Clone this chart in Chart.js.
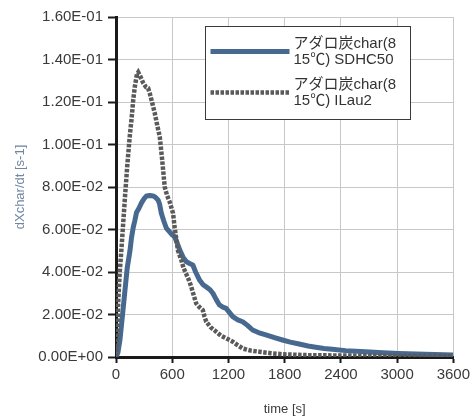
<!DOCTYPE html>
<html>
<head>
<meta charset="utf-8">
<script src="https://cdn.jsdelivr.net/npm/chart.js@4/dist/chart.umd.min.js"></script>
<style>
html,body{margin:0;padding:0;background:#fff;}
canvas{display:block;}
</style>
</head>
<body>
<canvas id="c" width="473" height="417"></canvas>
<script>
// ---- data ----
const seriesNames = ['アダロ炭char(815℃) SDHC50', 'アダロ炭char(815℃) ILau2'];
const legendLines = [['アダロ炭char(8', '15℃) SDHC50'], ['アダロ炭char(8', '15℃) ILau2']];

const timeSDHC50 = [0,20,42,70,96,120,149,165,184,200,219,245,272,300,326,360,396,420,449,465,484,510,537,570,600,626,650,680,715,750,785,820,850,892,930,963,1000,1034,1070,1104,1140,1175,1210,1246,1300,1352,1400,1458,1520,1600,1700,1777,1860,1954,2050,2131,2220,2308,2450,2662,2850,3016,3300,3600];
const valSDHC50 = [0,0.002,0.008,0.020,0.0315,0.042,0.050,0.056,0.061,0.064,0.068,0.070,0.0725,0.0745,0.0758,0.0760,0.0758,0.0752,0.0739,0.072,0.0676,0.064,0.0607,0.059,0.0575,0.0566,0.054,0.0504,0.047,0.0449,0.044,0.0433,0.040,0.0362,0.034,0.033,0.0318,0.030,0.027,0.0245,0.0235,0.0229,0.021,0.019,0.0175,0.0166,0.015,0.0127,0.0115,0.0104,0.009,0.008,0.007,0.0061,0.0052,0.0046,0.004,0.0036,0.003,0.0025,0.002,0.0017,0.0013,0.001];

const timeILau2 = [0,10,25,40,60,80,96,120,149,166,184,200,223,237,260,290,320,343,361,390,414,440,467,490,520,545,573,609,626,645,662,697,720,750,780,803,830,856,890,927,945,963,1010,1069,1120,1175,1246,1300,1352,1440,1529,1650,1777,2000,2400,3000,3600];
const valILau2 = [0,0.008,0.027,0.040,0.052,0.065,0.0755,0.090,0.105,0.112,0.121,0.127,0.133,0.134,0.132,0.129,0.127,0.1265,0.124,0.119,0.1147,0.109,0.1037,0.094,0.080,0.076,0.073,0.0676,0.061,0.055,0.050,0.0456,0.042,0.039,0.036,0.033,0.029,0.0252,0.0235,0.022,0.019,0.0166,0.014,0.0119,0.010,0.0088,0.0072,0.0055,0.004,0.003,0.0025,0.0018,0.0013,0.0009,0.0007,0.0005,0.0004];

const xTicks = [0,600,1200,1800,2400,3000,3600];
const yTicks = [0,0.02,0.04,0.06,0.08,0.10,0.12,0.14,0.16];

// ---- helpers ----
const FONT = "'Liberation Sans', 'Noto Sans CJK JP', Arial, sans-serif";
const BLUE = '#48698f';
const GRAY = '#5a5a5a';
function fmtE(v){
  if (Math.abs(v) < 1e-12) return '0.00E+00';
  const s = v.toExponential(2);
  const [m, e] = s.split('e');
  const n = parseInt(e, 10);
  const sign = n < 0 ? '-' : '+';
  const a = Math.abs(n);
  return m + 'E' + sign + (a < 10 ? '0' + a : String(a));
}
function pts(ts, vs){ return ts.map((t,i)=>({x:t, y:vs[i]})); }

const legendPlugin = {
  id: 'boxLegend',
  afterDraw(chart){
    const ctx = chart.ctx;
    const ca = chart.chartArea;
    const bx = ca.left + 89.5, by = ca.top + 9.5, bw = 205, bh = 93;
    ctx.save();
    ctx.fillStyle = '#ffffff';
    ctx.fillRect(bx, by, bw, bh);
    ctx.strokeStyle = '#3a3a3a';
    ctx.lineWidth = 1;
    ctx.strokeRect(bx, by, bw, bh);
    const ds = chart.data.datasets;
    const rows = [by + 25, by + 66];
    ds.forEach((d, i) => {
      const y = rows[i];
      ctx.beginPath();
      ctx.strokeStyle = d.borderColor;
      ctx.lineWidth = d.borderWidth;
      ctx.setLineDash(d.borderDash || []);
      ctx.moveTo(bx + 5, y);
      ctx.lineTo(bx + 84, y);
      ctx.stroke();
      ctx.setLineDash([]);
      ctx.fillStyle = '#333333';
      ctx.font = '15px ' + FONT;
      ctx.textBaseline = 'middle';
      ctx.textAlign = 'left';
      const lines = legendLines[i];
      ctx.fillText(lines[0], bx + 88, y - 8);
      ctx.fillText(lines[1], bx + 88, y + 8);
    });
    ctx.restore();
  }
};

new Chart(document.getElementById('c'), {
  type: 'line',
  data: {
    datasets: [
      { label: seriesNames[0], data: pts(timeSDHC50, valSDHC50), borderColor: BLUE, backgroundColor: BLUE,
        borderWidth: 5, pointRadius: 0, tension: 0, fill: false, order: 1, borderJoinStyle: 'round' },
      { label: seriesNames[1], data: pts(timeILau2, valILau2), borderColor: GRAY, backgroundColor: GRAY,
        borderWidth: 4.5, borderDash: [3.5, 1.5], pointRadius: 0, tension: 0, fill: false, order: 0 }
    ]
  },
  options: {
    responsive: false,
    animation: false,
    devicePixelRatio: 1,
    layout: { padding: { left: 0, right: 18, top: 17, bottom: 0 } },
    plugins: { legend: { display: false }, tooltip: { enabled: false } },
    scales: {
      x: {
        type: 'linear', min: 0, max: 3600,
        afterBuildTicks(s){ s.ticks = xTicks.map(v => ({value: v})); },
        afterFit(s){ s.height = 60; },
        ticks: { color: '#3a3a3a', font: { family: FONT, size: 15 }, padding: 3, maxRotation: 0, callback: v => String(v) },
        grid: { color: '#c8c8c8', lineWidth: 1, tickColor: '#1a1a1a', tickLength: 6, tickWidth: 2 },
        border: { color: '#1a1a1a', width: 3 },
        title: { display: true, text: 'time [s]', color: '#3a3a3a', font: { family: FONT, size: 13 }, padding: { top: 12, bottom: 0 } }
      },
      y: {
        type: 'linear', min: 0, max: 0.16,
        afterBuildTicks(s){ s.ticks = yTicks.map(v => ({value: v})); },
        afterFit(s){ s.width = 116; },
        ticks: { color: '#3a3a3a', font: { family: FONT, size: 15 }, padding: 5, callback: v => fmtE(v) },
        grid: { color: '#c8c8c8', lineWidth: 1, tickColor: '#1a1a1a', tickLength: 8, tickWidth: 2 },
        border: { color: '#1a1a1a', width: 3 },
        title: { display: true, text: 'dXchar/dt [s-1]', color: '#6f86a0', font: { family: FONT, size: 13 }, padding: { top: 13, bottom: 0 } }
      }
    }
  },
  plugins: [legendPlugin]
});
</script>
</body>
</html>
